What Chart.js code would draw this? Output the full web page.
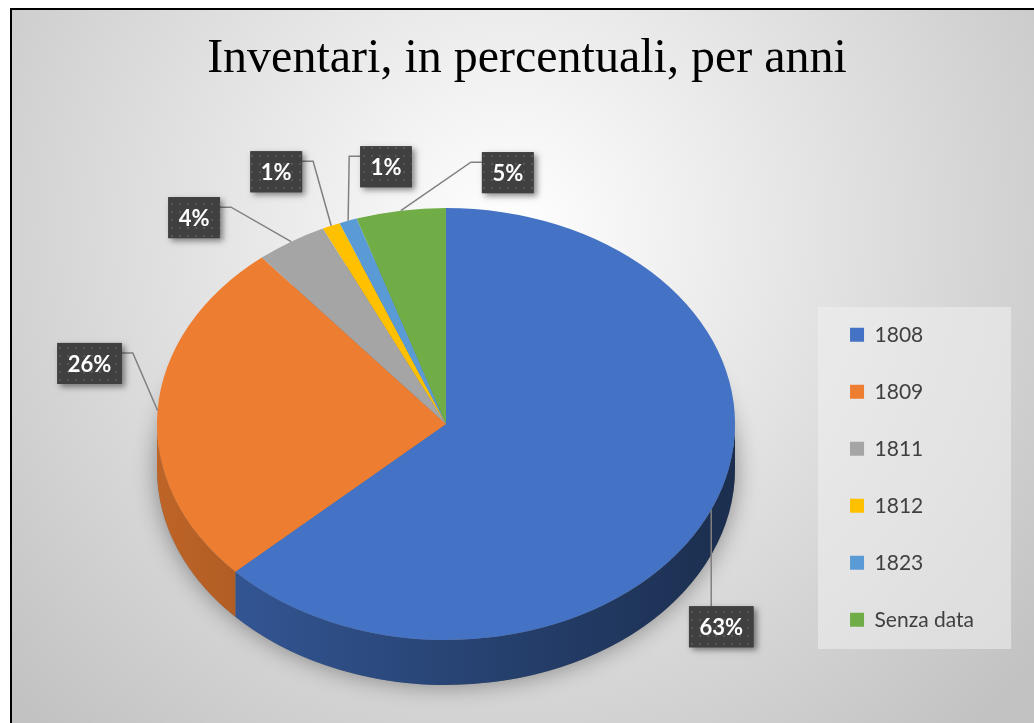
<!DOCTYPE html>
<html>
<head>
<meta charset="utf-8">
<title>Inventari, in percentuali, per anni</title>
<script src="https://cdn.jsdelivr.net/npm/chart.js@4.4.1/dist/chart.umd.min.js"></script>
<style>
  html, body { margin: 0; padding: 0; background: #fff; }
  canvas { display: block; }
</style>
</head>
<body>
<canvas id="chart" width="1034" height="723"></canvas>
<script>
const years = ["1808", "1809", "1811", "1812", "1823", "Senza data"];
const percents = [63, 26, 4, 1, 1, 5];
const sliceColors = ["#4472c4", "#ed7d31", "#a5a5a5", "#ffc000", "#5b9bd5", "#70ad47"];
const titleText = "Inventari, in percentuali, per anni";

// where each label box sits, relative to the point on the rim of its slice
const labelOffsets = [[10, 117], [-68, -47], [-97, -24], [-55, -54], [38, -54], [107, -38]];

// the flat pie is squeezed into this tilted disc
const disc = { cx: 446, cy: 424, rx: 289, ry: 216, depth: 45 };

const canvas = document.getElementById("chart");
const ctx = canvas.getContext("2d");

// dark label boxes have a faint dotted texture
const dotCanvas = document.createElement("canvas");
dotCanvas.width = dotCanvas.height = 8;
const dc = dotCanvas.getContext("2d");
dc.fillStyle = "#404040";
dc.fillRect(0, 0, 8, 8);
dc.fillStyle = "#575757";
dc.fillRect(3, 3, 2, 2);
const dotPattern = ctx.createPattern(dotCanvas, "repeat");

function shade(hex, f) {
  const n = parseInt(hex.slice(1), 16);
  const r = Math.round(((n >> 16) & 255) * f);
  const g = Math.round(((n >> 8) & 255) * f);
  const b = Math.round((n & 255) * f);
  return `rgb(${r},${g},${b})`;
}

const backgroundPlugin = {
  id: "background",
  beforeDraw(chart) {
    const c = chart.ctx;
    const w = chart.width, h = chart.height;
    c.save();
    c.fillStyle = "#fff";
    c.fillRect(0, 0, w, h);
    const g = c.createRadialGradient(510, 230, 0, 510, 230, 680);
    g.addColorStop(0, "#ffffff");
    g.addColorStop(1, "#c2c2c2");
    c.fillStyle = g;
    c.fillRect(12, 10, w - 12, h - 10);
    c.strokeStyle = "#000";
    c.lineWidth = 2;
    c.beginPath();
    c.moveTo(11, h);
    c.lineTo(11, 9);
    c.lineTo(w, 9);
    c.stroke();
    // legend panel
    c.fillStyle = "rgba(240,240,240,0.55)";
    c.fillRect(818, 307, 193, 342);
    c.restore();
  }
};

const pie3dPlugin = {
  id: "pie3d",
  beforeDatasetsDraw(chart) {
    const c = chart.ctx;
    const arcs = chart.getDatasetMeta(0).data;
    const { cx, cy, rx, ry, depth } = disc;

    // soft shadow below the disc
    c.save();
    c.shadowColor = "rgba(0,0,0,0.4)";
    c.shadowBlur = 24;
    c.fillStyle = "#777";
    c.beginPath();
    c.ellipse(cx, cy + depth, rx, ry, 0, 0, Math.PI * 2);
    c.fill();
    c.restore();

    // side walls, only the front half shows
    arcs.forEach((arc, i) => {
      const a1 = Math.max(arc.startAngle, 0);
      const a2 = Math.min(arc.endAngle, Math.PI);
      if (a2 <= a1) return;
      const grad = c.createLinearGradient(cx - rx, 0, cx + rx, 0);
      grad.addColorStop(0, shade(sliceColors[i], 0.8));
      grad.addColorStop(1, shade(sliceColors[i], 0.4));
      c.beginPath();
      c.ellipse(cx, cy, rx, ry, 0, a1, a2);
      c.ellipse(cx, cy + depth, rx, ry, 0, a2, a1, true);
      c.closePath();
      c.fillStyle = grad;
      c.fill();
    });

    // top face: the library's own arcs, squeezed into the ellipse
    const a0 = arcs[0];
    const r = a0.outerRadius;
    c.save();
    c.translate(cx, cy);
    c.scale(rx / r, ry / r);
    c.translate(-a0.x, -a0.y);
  },
  afterDatasetsDraw(chart) {
    const c = chart.ctx;
    c.restore();

    const arcs = chart.getDatasetMeta(0).data;
    const { cx, cy, rx, ry } = disc;
    const total = percents.reduce((s, v) => s + v, 0);

    c.save();
    c.font = "bold 22px Lato";
    c.textAlign = "center";
    c.textBaseline = "middle";
    arcs.forEach((arc, i) => {
      const mid = (arc.startAngle + arc.endAngle) / 2;
      const ax = cx + rx * Math.cos(mid);
      const ay = cy + ry * Math.sin(mid);
      const text = Math.round(percents[i] / total * 100) + "%";
      const w = c.measureText(text).width + 21;
      const h = 41;
      const [ox, oy] = labelOffsets[i];
      const bx = ax + ox - w / 2;
      const by = ay + oy - h / 2;

      // leader line
      c.strokeStyle = "#808080";
      c.lineWidth = 1.5;
      c.beginPath();
      if (Math.abs(ox) < w / 2) {
        c.moveTo(ax, ay);
        c.lineTo(ax, oy > 0 ? by : by + h);
      } else {
        const side = ox < 0 ? bx + w : bx;
        const ly = by + 10;
        c.moveTo(side, ly);
        c.lineTo(side + (ox < 0 ? 11 : -11), ly);
        c.lineTo(ax, ay);
      }
      c.stroke();

      c.save();
      c.shadowColor = "rgba(0,0,0,0.45)";
      c.shadowBlur = 6;
      c.shadowOffsetX = 3;
      c.shadowOffsetY = 3;
      c.fillStyle = "#404040";
      c.fillRect(bx, by, w, h);
      c.restore();
      c.fillStyle = dotPattern;
      c.fillRect(bx, by, w, h);
      c.fillStyle = "#fff";
      c.fillText(text, bx + w / 2, by + h / 2 + 1);
    });
    c.restore();
  }
};

new Chart(ctx, {
  type: "pie",
  data: {
    labels: years,
    datasets: [{
      data: percents,
      backgroundColor: sliceColors,
      borderWidth: 0,
      clip: false
    }]
  },
  options: {
    responsive: false,
    devicePixelRatio: 1,
    animation: false,
    events: [],
    layout: { padding: { left: 70, right: 50, top: 0, bottom: 10 } },
    plugins: {
      title: {
        display: true,
        text: titleText,
        color: "#000",
        font: { family: "'Liberation Serif', 'Times New Roman', serif", size: 48, weight: "normal", lineHeight: 1.2 },
        padding: { top: 31, bottom: 153 }
      },
      legend: {
        position: "right",
        align: "center",
        fullSize: false,
        labels: {
          boxWidth: 14,
          boxHeight: 14,
          padding: 36,
          color: "#404040",
          font: { family: "Lato", size: 21 }
        }
      },
      tooltip: { enabled: false }
    }
  },
  plugins: [backgroundPlugin, pie3dPlugin]
});
</script>
</body>
</html>
